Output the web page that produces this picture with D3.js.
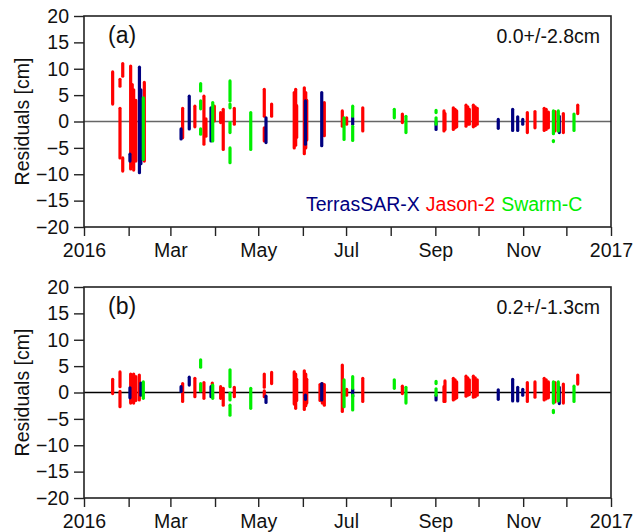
<!DOCTYPE html>
<html>
<head>
<meta charset="utf-8">
<script src="https://cdn.jsdelivr.net/npm/d3@7"></script>
<style>
    body { margin: 0; background: #fff; }
    svg text { font-family: Arial, "Liberation Sans", sans-serif; }
</style>
</head>
<body>
<svg id="chart" width="640" height="532"></svg>
<script>
/*global d3*/

// each strip is [day of 2016, low residual, high residual] in cm
var terraA = [
    [31.9, -7.5, -6.2], [38.5, -9.7, 10.3], [39.5, -8.0, 6.0], [67.4, -3.3, -1.4],
    [73.1, -1.4, 4.8], [88.2, -3.7, 2.6], [126.4, -4.0, 0.7], [153.8, -4.3, 3.9],
    [165.1, -4.6, 5.5], [186.6, -0.5, 0.7], [244.5, -1.5, -0.2], [287.7, -1.3, 0.4],
    [297.7, -1.7, 2.3], [301.2, -1.7, 0.9], [304.7, -0.5, 0.4], [330.1, -2.1, 1.0]
];
var jasonA = [
    [19.9, 3.3, 9.4], [25.0, 6.7, 8.0], [25.0, -6.9, 2.5], [26.9, 8.6, 11.0],
    [26.9, -9.4, -6.9], [32.4, -9.0, 10.5], [33.5, -8.5, 7.0], [34.5, -9.2, 6.0],
    [36.0, -7.5, 4.0], [41.9, -7.5, 7.4], [68.5, -3.1, 2.5], [77.0, -1.0, 2.9],
    [83.3, -4.3, 4.8], [84.7, -2.8, 0.5], [90.5, 0.1, 2.9], [94.9, -0.2, 1.7],
    [96.7, -5.3, 2.3], [104.4, -0.5, 2.5], [125.2, 1.0, 6.1], [125.2, -3.7, -1.2],
    [130.3, 1.0, 3.3], [146.0, -5.0, 5.5], [147.0, -4.5, 6.1], [147.7, -3.0, 3.0],
    [153.0, -6.1, 6.4], [154.0, -5.0, 5.5], [154.7, -3.5, 4.0], [166.9, -2.7, 3.6],
    [179.4, -0.9, 2.0], [182.4, -0.5, 0.7], [193.6, -1.8, 2.6], [221.1, -0.2, 1.4],
    [250.0, -1.8, 2.0], [250.7, -1.5, 1.5], [256.5, -1.5, 2.6], [257.7, -1.2, 2.3],
    [258.8, -1.0, 2.0], [265.3, -0.9, 3.1], [266.5, -0.5, 2.8], [267.6, -0.5, 2.3],
    [270.4, -1.0, 3.1], [271.7, -0.8, 2.8], [273.1, -0.5, 2.5], [307.9, -2.1, 1.7],
    [313.2, -1.2, 1.9], [319.6, -1.7, 2.5], [321.0, -1.5, 2.3], [322.5, -1.2, 1.8],
    [327.1, -1.8, 1.9], [332.9, -2.1, 1.5], [342.9, 1.5, 3.1]
];
var swarmA = [
    [41.2, -7.2, 4.5], [81.0, 5.8, 7.2], [81.0, 2.4, 3.9], [81.0, -2.4, -1.4],
    [89.4, -3.7, 3.6], [101.4, 3.9, 7.7], [101.4, 2.6, 3.3], [101.4, -2.1, -0.2],
    [101.4, -7.8, -5.0], [115.8, -5.3, 1.7], [180.6, -3.4, 0.7], [186.6, 1.0, 2.9],
    [186.6, -3.6, -0.9], [215.5, 0.7, 2.3], [223.6, -2.1, 1.0], [244.5, -0.5, 0.7],
    [244.5, 1.7, 2.1], [326.0, -2.3, 2.0], [326.0, -3.8, -3.6], [329.4, -1.8, 2.0],
    [340.3, -1.7, 1.4]
];

var terraB = [
    [31.9, -1.0, 0.9], [39.5, -0.5, 1.8], [67.4, 0.2, 1.1], [73.1, 1.4, 2.9],
    [88.2, -0.8, 1.1], [126.4, -1.9, -0.7], [153.8, -1.3, -0.5], [165.1, -1.4, 1.7],
    [186.6, -0.7, 0.6], [244.5, -1.4, -0.5], [287.7, -1.3, 0.5], [297.7, -1.6, 2.5],
    [301.2, -1.6, 1.0], [304.7, -0.5, 0.6], [330.1, -2.1, 1.0]
];
var jasonB = [
    [19.9, -0.2, 2.5], [25.0, 1.1, 3.9], [25.0, -2.7, 0.2], [32.4, -2.0, 3.5],
    [33.5, -1.8, 3.3], [34.5, -2.0, 3.5], [36.0, -1.5, 3.0], [38.4, -1.4, 3.3],
    [68.5, -1.7, 1.7], [77.0, -0.8, 2.7], [83.3, -1.1, 1.9], [89.1, -0.5, 1.8],
    [94.9, -1.1, 1.1], [96.7, -2.4, 0.8], [104.4, -0.8, 1.0], [125.2, 1.0, 3.5],
    [125.2, -0.8, 0.3], [130.3, 1.7, 3.8], [146.0, -2.2, 3.9], [147.0, -3.0, 3.5],
    [147.7, -1.5, 2.5], [153.0, -3.2, 4.1], [154.0, -2.5, 3.5], [154.7, -2.0, 2.5],
    [163.9, -1.5, 1.5], [165.5, -2.0, 1.7], [166.9, -2.4, 1.5], [179.4, -3.6, 5.2],
    [182.4, -0.5, 0.6], [193.6, -1.7, 2.7], [221.1, -0.2, 1.2], [250.0, -1.7, 1.1],
    [250.7, -1.7, 2.2], [256.5, -1.4, 2.7], [257.7, -1.2, 2.4], [258.8, -1.0, 2.0],
    [265.3, -0.7, 3.1], [266.5, -0.5, 2.8], [267.6, -0.4, 2.4], [270.4, -0.9, 3.1],
    [271.7, -0.8, 2.8], [273.1, -0.5, 2.4], [307.9, -1.7, 1.9], [313.2, -0.9, 2.0],
    [319.6, -1.4, 2.7], [321.0, -1.2, 2.4], [322.5, -1.0, 2.0], [327.1, -1.8, 1.9],
    [332.9, -2.0, 1.6], [342.9, 1.6, 3.3]
];
var swarmB = [
    [41.2, -1.1, 2.0], [81.0, 4.8, 6.2], [81.0, 0.3, 1.7], [89.4, -1.1, 1.4],
    [101.4, 1.1, 4.3], [101.4, -1.4, -0.1], [101.4, -4.3, -2.4], [115.8, -3.0, 0.8],
    [180.6, -2.7, 2.4], [186.6, 0.8, 3.0], [186.6, -3.3, -0.5], [215.5, 0.8, 2.4],
    [223.6, -2.0, 1.0], [244.5, -0.5, 0.7], [244.5, 1.7, 2.1], [326.0, -2.0, 2.0],
    [326.0, -3.8, -3.4], [329.4, -1.6, 2.0], [340.3, -1.7, 1.2]
];

var yTicks = [20, 15, 10, 5, 0, -5, -10, -15, -20];
var xTickLabels = ['2016', '', 'Mar', '', 'May', '', 'Jul', '', 'Sep', '', 'Nov', '', '2017'];
var satellites = ['TerrasSAR-X', 'Jason-2', 'Swarm-C'];
var satColors = ['#000080', '#ff0000', '#00ee00'];

var panels = [
    {label: '(a)', stats: '0.0+/-2.8cm', top: 16, zero: '#666', legend: true,
     series: [jasonA, terraA, swarmA], colors: [satColors[1], satColors[0], satColors[2]]},
    {label: '(b)', stats: '0.2+/-1.3cm', top: 287, zero: '#000', legend: false,
     series: [jasonB, terraB, swarmB], colors: [satColors[1], satColors[0], satColors[2]]}
];

var svg = d3.select('#chart'),
    left = 84,
    right = 611,
    plotH = 211,
    t0 = Date.UTC(2016, 0, 1),
    x = d3.scaleUtc()
        .domain([new Date(t0), new Date(Date.UTC(2017, 0, 1))])
        .range([left, right]),
    toDate = function (day) {
        return new Date(t0 + day * 864e5);
    };

panels.forEach(function (p) {
    var y = d3.scaleLinear().domain([-20, 20]).range([p.top + plotH, p.top]),
        g = svg.append('g');

    // zero line
    g.append('line')
        .attr('x1', left).attr('x2', right)
        .attr('y1', y(0)).attr('y2', y(0))
        .attr('stroke', p.zero).attr('stroke-width', 1.3);

    // residual strips
    p.series.forEach(function (s, i) {
        g.append('g').selectAll('line')
            .data(s)
            .join('line')
            .attr('x1', function (d) { return x(toDate(d[0])); })
            .attr('x2', function (d) { return x(toDate(d[0])); })
            .attr('y1', function (d) { return y(d[1]); })
            .attr('y2', function (d) { return y(d[2]); })
            .attr('stroke', p.colors[i])
            .attr('stroke-width', 3.2)
            .attr('stroke-linecap', 'round');
    });

    g.append('rect')
        .attr('x', left).attr('y', p.top)
        .attr('width', right - left).attr('height', plotH)
        .attr('fill', 'none').attr('stroke', '#222').attr('stroke-width', 1.6);

    var xAxis = d3.axisBottom(x)
        .ticks(d3.utcMonth.every(1))
        .tickSize(9)
        .tickPadding(7)
        .tickFormat(function (d, i) { return xTickLabels[i]; });

    var ax = g.append('g')
        .attr('transform', 'translate(0,' + (p.top + plotH) + ')')
        .call(xAxis);
    ax.select('.domain').remove();
    ax.selectAll('line').attr('stroke', '#222').attr('stroke-width', 1.4);
    ax.selectAll('text').attr('font-size', 19.5).attr('fill', '#111');

    var yAxis = d3.axisLeft(y)
        .tickValues(yTicks)
        .tickSize(10)
        .tickPadding(5)
        .tickFormat(d3.format('d'));

    var ay = g.append('g')
        .attr('transform', 'translate(' + left + ',0)')
        .call(yAxis);
    ay.select('.domain').remove();
    ay.selectAll('line').attr('stroke', '#222').attr('stroke-width', 1.4);
    ay.selectAll('text').attr('font-size', 19.5).attr('fill', '#111');

    g.append('text')
        .attr('transform', 'translate(29,' + (p.top + plotH / 2) + ') rotate(-90)')
        .attr('text-anchor', 'middle')
        .attr('font-size', 19.5)
        .attr('fill', '#111')
        .text('Residuals [cm]');

    g.append('text')
        .attr('x', 108).attr('y', p.top + 27)
        .attr('font-size', 23)
        .attr('fill', '#111')
        .text(p.label);

    g.append('text')
        .attr('x', 600).attr('y', p.top + 27)
        .attr('text-anchor', 'end')
        .attr('font-size', 19.5)
        .attr('fill', '#111')
        .text(p.stats);

    if (p.legend) {
        var lg = g.append('text')
            .attr('x', 306).attr('y', p.top + 195)
            .attr('font-size', 19.5);
        satellites.forEach(function (name, i) {
            lg.append('tspan')
                .attr('fill', satColors[i])
                .attr('dx', i === 0 ? 0 : 6)
                .text(name);
        });
    }
});
</script>
</body>
</html>
